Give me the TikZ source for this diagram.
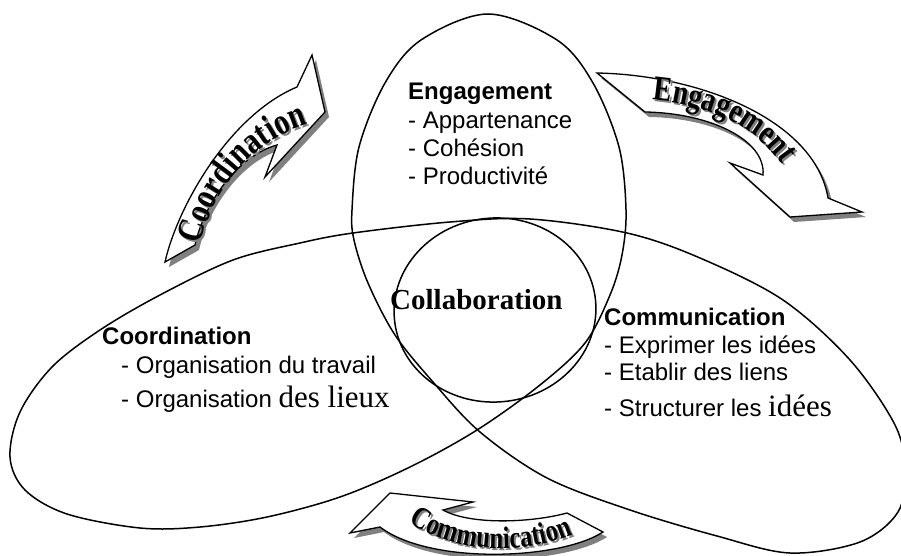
\documentclass[tikz,border=0pt]{standalone}
\usepackage{fontspec}
\setmainfont{Liberation Serif}
\setsansfont{Liberation Sans}
\newfontfamily\arrowfont{Liberation Serif}[FakeStretch=0.8]
\usetikzlibrary{decorations.text}

\newcommand{\coordpath}{(165,262) .. controls (178,205) and (230,115) .. (297,87) -- (312,55) -- (325,112) -- (265,177) -- (277,145) .. controls (240,155) and (205,200) .. (195,245) -- cycle}
\newcommand{\engpath}{(597,73) .. controls (700,75) and (815,120) .. (828,198) -- (862,212) -- (790,217) -- (730,163) -- (763,175) .. controls (766,140) and (710,113) .. (645,112) -- cycle}
\newcommand{\commpath}{(390,493) -- (473,502) -- (443,510) .. controls (470,525) and (530,523) .. (567,513) -- (603,532) .. controls (560,560) and (430,565) .. (380,527) -- (350,533) -- cycle}

\tikzset{
  lobe/.style={line width=1.5pt},
  curvedarrow/.style={draw, fill=white, line width=1.3pt, line join=miter},
  arrowshadow/.style={fill=black!50, shift={(4,5)}},
  blocktext/.style={font=\sffamily\fontsize{24}{28}\selectfont, inner sep=0pt, anchor=base west},
  arrowword/.style={decorate, decoration={text along path, text align=center, text={#1}}}
}

\begin{document}
\begin{tikzpicture}[x=1pt, y=-1pt]
  \useasboundingbox (0,0) rectangle (901,556);

  % the three lobes, one closed curve
  \draw[lobe] plot[smooth cycle, tension=0.55] coordinates {
    (488,14) (557,40) (593,83) (619,147) (626,210) (622,255) (610,295)
    (585,343) (540,385) (477,430) (410,467) (340,497) (267,517) (200,527)
    (140,528) (67,514) (25,490) (10,457) (20,412) (52,367) (100,330)
    (160,295) (233,260) (300,243) (353,233) (450,222) (530,219) (627,233)
    (700,258) (783,300) (850,360) (895,425) (905,470) (898,512) (860,542)
    (790,553) (717,536) (630,510) (547,478) (480,432) (433,382) (395,335)
    (368,283) (354,240) (352,210) (359,147) (385,83) (421,40)};
  % middle
  \draw[lobe, rotate around={5:(495,310)}] (495,310) ellipse [x radius=101pt, y radius=92pt];

  % curved arrows
  \fill[arrowshadow] \coordpath;
  \path[curvedarrow] \coordpath;
  \fill[arrowshadow] \engpath;
  \path[curvedarrow] \engpath;
  \fill[arrowshadow] \commpath;
  \path[curvedarrow] \commpath;

  % words on the arrows, grey copy first
  \path[arrowword={|\arrowfont\bfseries\fontsize{37}{37}\selectfont\color{black!50}|Coordination}, shift={(2,2)}]
    (198,252) .. controls (212,190) and (250,140) .. (315,122);
  \path[arrowword={|\arrowfont\bfseries\fontsize{37}{37}\selectfont|Coordination}]
    (198,252) .. controls (212,190) and (250,140) .. (315,122);
  \path[arrowword={|\arrowfont\bfseries\fontsize{35}{35}\selectfont\color{black!50}|Engagement}, shift={(2,2)}]
    (632,99) .. controls (700,100) and (765,124) .. (792,182);
  \path[arrowword={|\arrowfont\bfseries\fontsize{35}{35}\selectfont|Engagement}]
    (632,99) .. controls (700,100) and (765,124) .. (792,182);
  \path[arrowword={|\arrowfont\bfseries\fontsize{31}{31}\selectfont\color{black!50}|Communication}, shift={(2,2)}]
    (396,512) .. controls (440,553) and (525,561) .. (588,527);
  \path[arrowword={|\arrowfont\bfseries\fontsize{31}{31}\selectfont|Communication}]
    (396,512) .. controls (440,553) and (525,561) .. (588,527);

  % Engagement
  \node[blocktext] (engtitle) at (408,100) {\bfseries Engagement};
  \node[blocktext] (engA) at (408,129) {- Appartenance};
  \node[blocktext] (engB) at (408,157) {- Cohésion};
  \node[blocktext] (engC) at (408,185) {- Productivité};

  % Coordination
  \node[blocktext] (coordtitle) at (102,344) {\bfseries Coordination};
  \node[blocktext] (coordA) at (121,373) {- Organisation du travail};
  \node[blocktext] (coordB) at (121,407) {- Organisation {\rmfamily\fontsize{31}{31}\selectfont des lieux}};

  % Communication
  \node[blocktext] (commtitle) at (604,325) {\bfseries Communication};
  \node[blocktext] (commA) at (604,353) {- Exprimer les idées};
  \node[blocktext] (commB) at (604,380) {- Etablir des liens};
  \node[blocktext] (commC) at (604,416) {- Structurer les {\rmfamily\fontsize{31}{31}\selectfont idées}};

  \node[font=\rmfamily\bfseries\fontsize{29}{30}\selectfont, inner sep=0pt, anchor=base west] (collab) at (390,309) {Collaboration};
\end{tikzpicture}
\end{document}
